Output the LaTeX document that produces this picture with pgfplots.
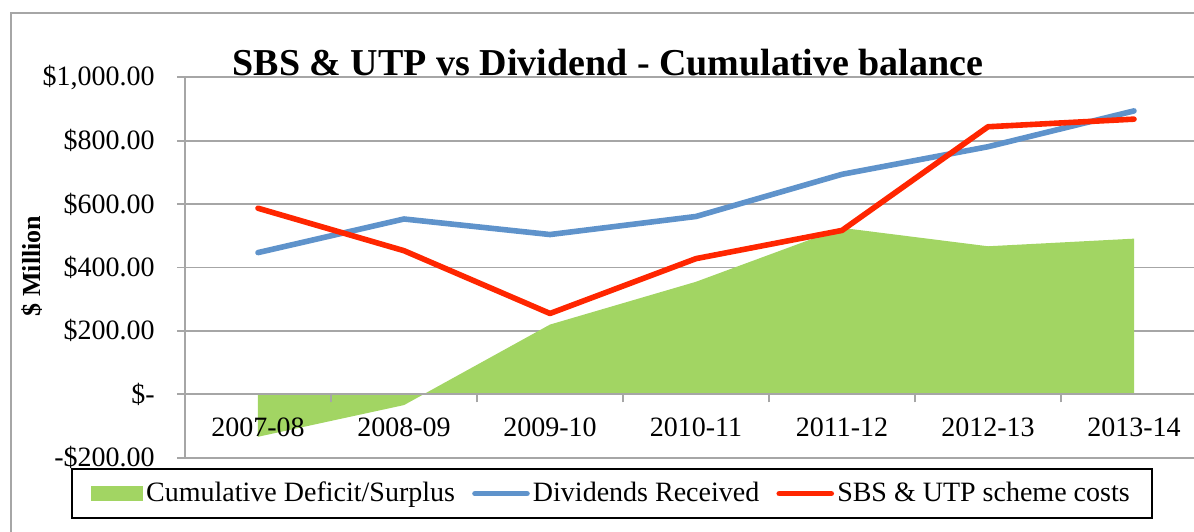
\documentclass[border=0pt]{standalone}
\usepackage{fontspec}
\setmainfont{Liberation Serif}
\usepackage{pgfplots}
\pgfplotsset{compat=1.18}

\definecolor{areagreen}{HTML}{A2D563}
\definecolor{divblue}{HTML}{5F93CB}
\definecolor{costred}{HTML}{FF2600}
\definecolor{gridgray}{HTML}{A6A6A6}

\pgfplotsset{
    frame/.style={
        at={(0,0)}, anchor=south west,
        scale only axis,
        width=511pt, height=190.2pt,
        xmin=-0.5, xmax=6.5,
        ymin=-200, ymax=1000,
        tick align=outside,
        tick label style={font=\fontsize{14}{16}\selectfont, inner sep=0pt},
    },
    area legend img/.style={legend image code/.code={\fill[areagreen] (0pt,-3.75pt) rectangle (26pt,3.75pt);}},
    line legend img/.style={legend image code/.code={\draw[##1] (0pt,0pt) -- (26pt,0pt);}},
}

\begin{document}
\begin{tikzpicture}
% main axis: grid, y axis, data, title, legend
\begin{axis}[
    frame,
    axis x line=none,
    axis y line*=left,
    axis line style={gridgray, line width=0.9pt},
    xtick=\empty,
    ytick={-200,0,200,400,600,800,1000},
    yticklabels={-\$200.00,\$-,\$200.00,\$400.00,\$600.00,\$800.00,\$1{,}000.00},
    y tick style={gridgray, line width=0.9pt},
    major tick length=4pt,
    ymajorgrids,
    grid style={gridgray, line width=0.9pt},
    yticklabel style={anchor=east, xshift=-11pt},
    every axis title shift=0pt,
    title={SBS \& UTP vs Dividend - Cumulative balance},
    title style={at={(0.4139,1.006)}, anchor=base, inner sep=0pt,
        font=\fontsize{19}{22}\selectfont\bfseries},
    ylabel={\$ Million},
    ylabel style={at={(-0.1497,0.504)}, anchor=center, rotate=0,
        font=\fontsize{13}{15}\selectfont\bfseries},
    legend columns=3,
    legend style={at={(-0.1115,-0.0271)}, anchor=north west,
        draw=black, line width=1pt, inner xsep=9.5pt, inner ysep=5pt,
        font=\fontsize{14}{16}\selectfont,
        nodes={inner sep=1.6pt},
        /tikz/every even column/.append style={column sep=7pt}},
    legend cell align=left,
]
\addplot[fill=areagreen, draw=none, area legend img]
    coordinates {(0,-134) (1,-34) (2,220) (3,355) (4,525) (5,467) (6,491)} \closedcycle;
\addlegendentry{Cumulative Deficit/Surplus}
\addplot[divblue, line width=2.8pt, line cap=round, line join=round, line legend img]
    coordinates {(0,447) (1,553) (2,504) (3,561) (4,694) (5,781) (6,894)};
\addlegendentry{Dividends Received}
\addplot[costred, line width=2.8pt, line cap=round, line join=round, line legend img]
    coordinates {(0,587) (1,453) (2,255) (3,428) (4,517) (5,844) (6,868)};
\addlegendentry{SBS \& UTP scheme costs}
\end{axis}
% category axis on top of the area, crossing at zero
\begin{axis}[
    frame,
    axis x line*=middle,
    axis y line=none,
    axis line style={gridgray, line width=0.9pt},
    xtick={0,...,6},
    xticklabels={2007-08,2008-09,2009-10,2010-11,2011-12,2012-13,2013-14},
    minor xtick={0.5,1.5,...,5.5},
    major x tick style={draw=none},
    minor x tick style={gridgray, line width=0.9pt},
    minor tick length=4pt,
    major tick length=4pt,
    ytick=\empty,
    xticklabel style={anchor=north, yshift=-7.6pt},
]
\end{axis}
% outer chart frame (cropped at right and bottom like the reference)
\draw[gridgray, line width=1pt] (-87pt,-60pt) -- (-87pt,222.35pt) -- (540pt,222.35pt);
\pgfresetboundingbox
\useasboundingbox (-92.5pt,-36.65pt) rectangle (504.5pt,228.85pt);
\end{tikzpicture}
\end{document}
